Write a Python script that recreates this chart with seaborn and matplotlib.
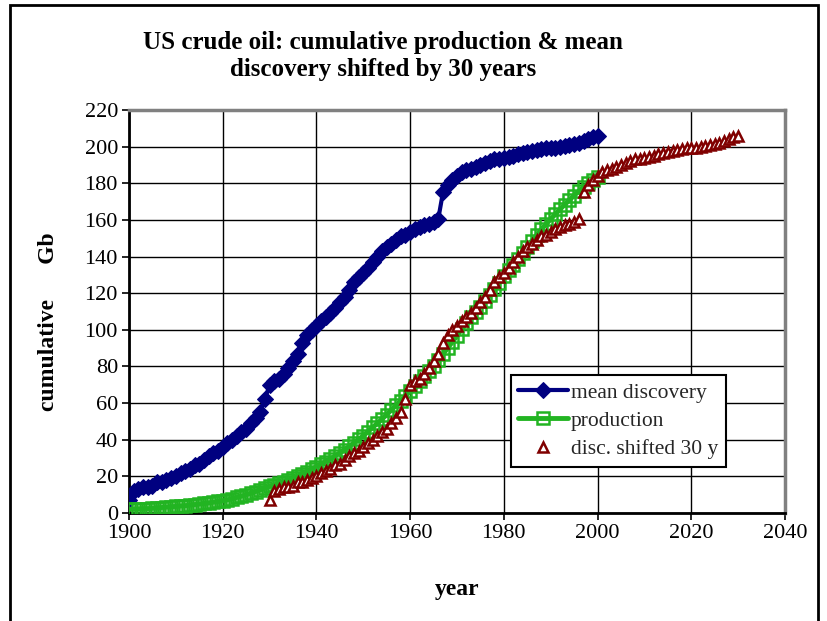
import matplotlib
matplotlib.use("Agg")
import matplotlib.pyplot as plt
import seaborn as sns
import pandas as pd
from matplotlib.patches import Rectangle

# ---------------- data ----------------
years = list(range(1900, 2001))

discovery = [
    7, 12, 13, 14, 14, 15, 17, 17, 18, 19,          # 1900-1909
    20, 22, 23, 24, 26, 27, 29, 31, 33, 34,         # 1910-1919
    36, 38, 40, 42, 44, 46, 49, 52, 55, 62,         # 1920-1929
    70, 72, 73, 76, 79, 83, 87, 93, 97, 100,        # 1930-1939
    102, 105, 107, 109, 112, 115, 118, 122, 126, 129,  # 1940-1949
    131, 134, 137, 140, 143, 145, 147, 149, 151, 152,  # 1950-1959
    153.5, 155, 156, 157, 158, 159, 160.5, 175, 179, 182,  # 1960-1969
    184, 186, 187, 188, 189, 190, 191, 192, 193, 193.5,  # 1970-1979
    194, 194.5, 195, 196, 196.5, 197, 197.5, 198, 198.5, 199,  # 1980-1989
    199, 199.5, 200, 200.5, 201, 201.5, 202, 203, 204, 205,  # 1990-1999
    206,                                              # 2000
]

production = [
    2.0, 2.1, 2.2, 2.3, 2.4, 2.6, 2.8, 3.0, 3.2, 3.4,      # 1900-1909
    3.6, 3.8, 4.0, 4.3, 4.6, 4.9, 5.2, 5.5, 5.9, 6.3,      # 1910-1919
    6.7, 7.2, 7.8, 8.5, 9.2, 10.0, 10.8, 11.7, 12.6, 13.6,  # 1920-1929
    14.5, 15.4, 16.2, 17.1, 18.0, 19.0, 20.1, 21.4, 22.6, 23.9,  # 1930-1939
    25.3, 26.7, 28.1, 29.6, 31.2, 32.9, 34.6, 36.4, 38.4, 40.2,  # 1940-1949
    42.2, 44.4, 46.7, 49.0, 51.3, 53.7, 56.3, 58.8, 61.3, 63.9,  # 1950-1959
    66.5, 69.1, 71.9, 74.7, 77.5, 80.4, 83.5, 86.7, 90.0, 93.3,  # 1960-1969
    96.8, 100.2, 103.6, 106.8, 109.8, 112.6, 115.6, 118.8, 122.2, 125.7,  # 1970-1979
    129.2, 132.4, 135.6, 138.8, 142.1, 145.4, 148.6, 151.7, 154.8, 157.6,  # 1980-1989
    160.4, 163.1, 165.8, 168.4, 170.9, 173.3, 175.7, 178.0, 180.0, 181.8,  # 1990-1999
    183.3,                                                    # 2000
]

SHIFT = 30
shifted_years = [y + SHIFT for y in years]

series_labels = ["mean discovery", "production", "disc. shifted 30 y"]
x_ticks = [1900, 1920, 1940, 1960, 1980, 2000, 2020, 2040]
y_ticks = [0, 20, 40, 60, 80, 100, 120, 140, 160, 180, 200, 220]

title_text = "US crude oil: cumulative production & mean\ndiscovery shifted by 30 years"
x_label = "year"
y_label = "cumulative      Gb"

df_disc = pd.DataFrame({"year": years, "value": discovery})
df_prod = pd.DataFrame({"year": years, "value": production})
df_shift = pd.DataFrame({"year": shifted_years, "value": discovery})

# ---------------- style ----------------
sns.set_theme(style="white")
plt.rcParams["font.family"] = ["Liberation Serif", "DejaVu Serif"]

NAVY = "#000080"
GREEN = "#22b422"
DARKRED = "#800000"

fig = plt.figure(figsize=(8.28, 6.21), dpi=100)
fig.patch.set_facecolor("white")
ax = fig.add_axes([129 / 828, 1 - 513 / 621, 656 / 828, 403 / 621])

sns.lineplot(data=df_disc, x="year", y="value", ax=ax, color=NAVY,
             linewidth=3, marker="D", markersize=8.5, markeredgecolor=NAVY,
             markerfacecolor=NAVY, label=series_labels[0], zorder=3)
sns.lineplot(data=df_prod, x="year", y="value", ax=ax, color=GREEN,
             linewidth=3.5, marker="s", markersize=8.5, markeredgecolor=GREEN,
             markerfacecolor="none", markeredgewidth=1.8,
             label=series_labels[1], zorder=3)
sns.lineplot(data=df_shift, x="year", y="value", ax=ax, color=DARKRED,
             linestyle="none", marker="^", markersize=7.5,
             markeredgecolor=DARKRED, markerfacecolor="white",
             markeredgewidth=1.8, label=series_labels[2], zorder=4)

ax.set_xlim(1900, 2040)
ax.set_ylim(0, 220)
ax.set_xticks(x_ticks)
ax.set_yticks(y_ticks)
ax.tick_params(axis="both", which="major", labelsize=16, direction="out",
               length=5, width=1.2, color="black", left=True, bottom=True,
               pad=3)
for lbl in ax.get_xticklabels() + ax.get_yticklabels():
    lbl.set_color("black")

ax.grid(True, color="black", linewidth=1.0)
ax.set_axisbelow(True)
ax.spines["left"].set_color("black")
ax.spines["left"].set_linewidth(2)
ax.spines["bottom"].set_color("black")
ax.spines["bottom"].set_linewidth(2)
ax.spines["top"].set_color("#808080")
ax.spines["top"].set_linewidth(2.5)
ax.spines["right"].set_color("#808080")
ax.spines["right"].set_linewidth(2.5)

ax.set_xlabel(x_label, fontsize=17, fontweight="bold", color="black",
              labelpad=26)
ax.set_ylabel(y_label, fontsize=17, fontweight="bold", color="black")
ax.yaxis.set_label_coords(-0.106, 0.475)

leg = ax.legend(loc="upper left", bbox_to_anchor=(0.582, 0.342),
                borderaxespad=0, frameon=True, fancybox=False, shadow=False,
                fontsize=15.5, handlelength=2.3, handletextpad=0.15,
                labelspacing=0.38, borderpad=0.35)
leg.get_frame().set_edgecolor("black")
leg.get_frame().set_linewidth(1.5)
leg.get_frame().set_facecolor("white")
leg.get_frame().set_alpha(1)

fig.text(383 / 828, 1 - 56 / 621, title_text, ha="center", va="center",
         fontsize=18, fontweight="bold", color="black", linespacing=1.25)

fig.patches.append(Rectangle((10 / 828, -0.05), 808 / 828, 1.05 - 5 / 621,
                             transform=fig.transFigure, fill=False,
                             edgecolor="black", linewidth=2))

fig.savefig("out.png", dpi=100)
